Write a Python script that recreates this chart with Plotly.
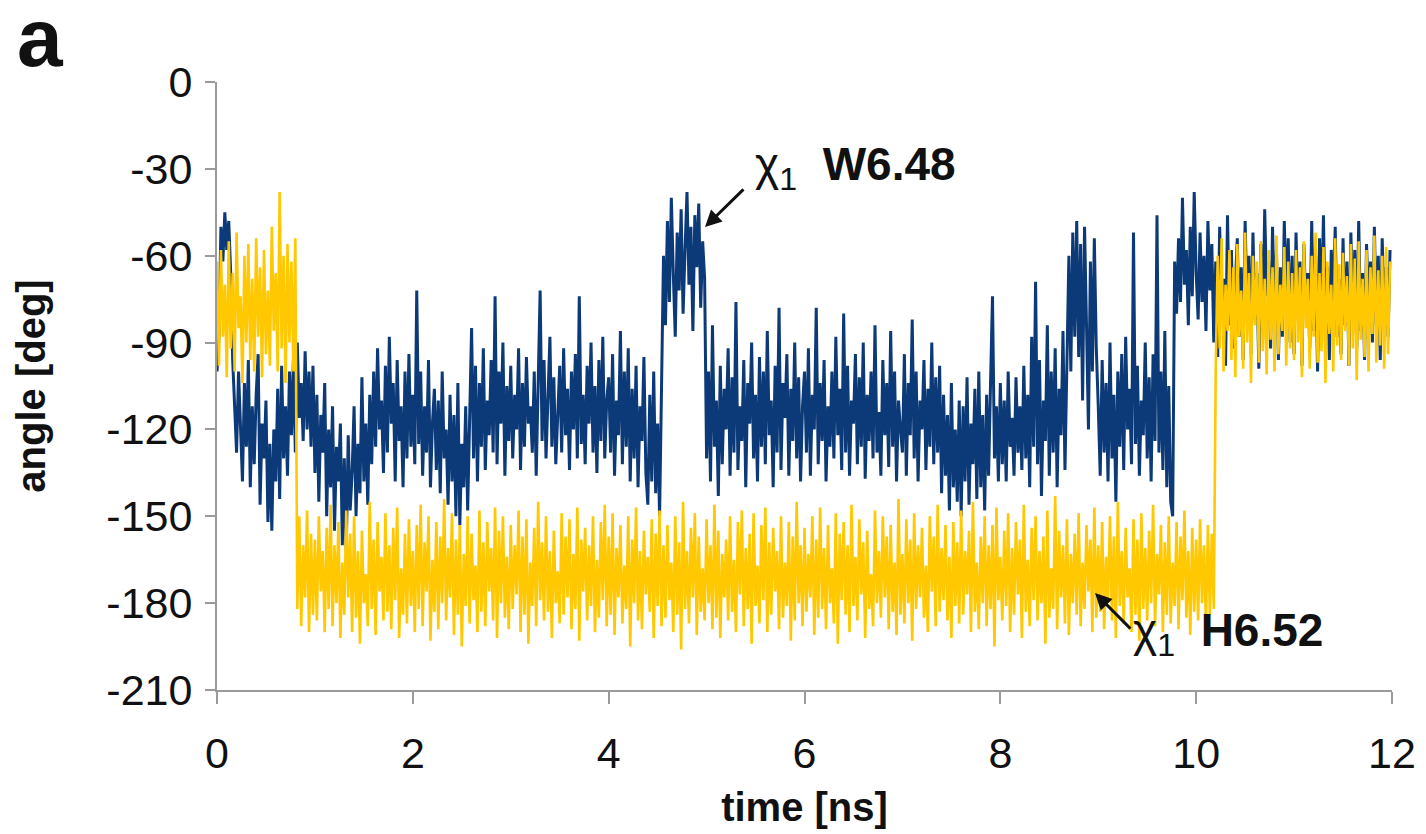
import plotly.graph_objects as go

dt = 0.02

# chi1 W6.48 (blue) angle values [deg], one per 0.02 ns
w648 = [
    # 0-1 ns
    -100, -88, -50, -62, -45, -58, -48, -66, -96, -112,
    -128, -100, -118, -138, -104, -126, -96, -140, -112, -132,
    -108, -94, -146, -118, -130, -110, -152, -125, -155, -120,
    -138, -106, -144, -98, -130, -112, -136, -100, -122, -96,
    -128, -90, -116, -104, -124, -93, -120, -100, -126, -98,
    # 1-2 ns
    -135, -108, -145, -115, -128, -104, -150, -120, -140, -112,
    -155, -126, -138, -118, -160, -130, -162, -122, -148, -135,
    -112, -150, -125, -142, -102, -138, -118, -146, -108, -132,
    -100, -126, -92, -120, -110, -135, -98, -128, -88, -118,
    -104, -138, -96, -124, -112, -140, -100, -130, -94, -126,
    # 2-3 ns
    -108, -132, -72, -125, -100, -136, -112, -128, -96, -140,
    -118, -106, -134, -110, -142, -100, -130, -120, -146, -108,
    -138, -115, -150, -104, -153, -125, -140, -112, -148, -120,
    -85, -130, -98, -138, -104, -126, -92, -134, -110, -122,
    -96, -128, -74, -132, -100, -118, -90, -136, -105, -124,
    # 3-4 ns
    -98, -130, -108, -120, -92, -134, -104, -126, -95, -118,
    -112, -128, -100, -136, -108, -72, -124, -96, -130, -110,
    -88, -126, -102, -132, -115, -98, -128, -92, -122, -106,
    -134, -100, -120, -94, -130, -74, -125, -108, -132, -98,
    -118, -90, -128, -105, -135, -96, -124, -88, -130, -110,
    # 4-5 ns
    -102, -128, -94, -136, -110, -122, -86, -132, -100, -126,
    -92, -138, -106, -130, -98, -140, -112, -124, -95, -135,
    -146, -108, -138, -100, -142, -118, -150, -96, -60, -84,
    -48, -76, -40, -66, -88, -52, -72, -44, -80, -58,
    -38, -70, -50, -86, -46, -64, -42, -78, -55, -68,
    # 5-6 ns
    -130, -100, -138, -84, -126, -110, -143, -98, -132, -106,
    -120, -92, -136, -102, -128, -76, -134, -112, -124, -96,
    -140, -104, -118, -90, -130, -108, -138, -95, -126, -100,
    -132, -86, -122, -110, -140, -98, -128, -78, -134, -104,
    -116, -94, -136, -106, -124, -90, -130, -102, -138, -112,
    # 6-7 ns
    -100, -128, -92, -136, -108, -120, -78, -132, -104, -124,
    -96, -138, -112, -126, -100, -130, -88, -122, -106, -134,
    -80, -128, -98, -136, -110, -118, -94, -132, -102, -126,
    -90, -137, -108, -124, -100, -130, -84, -128, -114, -136,
    -96, -122, -104, -133, -86, -126, -100, -138, -110, -120,
    # 7-8 ns
    -128, -94, -136, -104, -122, -82, -130, -100, -138, -110,
    -120, -96, -134, -106, -126, -90, -132, -102, -128, -98,
    -142, -108, -136, -115, -148, -104, -140, -120, -145, -110,
    -150, -112, -138, -102, -146, -118, -132, -106, -144, -100,
    -140, -115, -148, -108, -136, -104, -74, -130, -112, -138,
    # 8-9 ns
    -104, -132, -110, -138, -100, -126, -116, -136, -102, -128,
    -112, -134, -98, -130, -108, -140, -88, -126, -69, -132,
    -96, -143, -110, -124, -84, -136, -100, -128, -92, -140,
    -106, -122, -86, -134, -98, -60, -100, -52, -88, -48,
    -95, -56, -110, -50, -84, -120, -62, -100, -54, -92,
    # 9-10 ns
    -112, -136, -96, -128, -104, -138, -90, -130, -108, -145,
    -100, -126, -94, -134, -88, -120, -106, -132, -52, -125,
    -98, -136, -110, -122, -90, -130, -102, -138, -94, -124,
    -46, -128, -100, -134, -86, -140, -105, -145, -150, -62,
    -80, -54, -76, -40, -70, -58, -84, -50, -74, -38,
    # 10-11 ns
    -66, -82, -52, -76, -60, -86, -48, -72, -56, -90,
    -62, -95, -50, -80, -68, -98, -46, -84, -58, -92,
    -70, -54, -88, -64, -96, -48, -78, -60, -94, -52,
    -82, -66, -99, -56, -86, -44, -74, -62, -92, -50,
    -80, -58, -96, -64, -88, -48, -76, -54, -90, -60,
    # 11-12 ns
    -94, -52, -82, -62, -98, -56, -78, -66, -92, -48,
    -86, -60, -100, -54, -80, -46, -90, -64, -96, -58,
    -76, -50, -88, -68, -94, -54, -84, -62, -98, -52,
    -80, -58, -92, -48, -86, -66, -96, -56, -78, -62,
    -90, -50, -84, -60, -96, -54, -82, -64, -88, -58,
]

# chi1 H6.52 (yellow) angle values [deg], one per 0.02 ns
h652 = [
    # 0-1 ns
    -62, -98, -58, -88, -70, -102, -55, -92, -66, -100,
    -52, -85, -74, -104, -60, -90, -56, -96, -68, -100,
    -54, -88, -64, -102, -58, -94, -72, -98, -50, -86,
    -66, -100, -38, -92, -60, -104, -56, -90, -62, -100,
    -54, -182, -150, -188, -160, -178, -148, -190, -156, -184,
    # 1-2 ns
    -158, -186, -150, -176, -162, -190, -154, -182, -146, -188,
    -160, -180, -152, -192, -166, -184, -148, -178, -156, -190,
    -150, -185, -162, -194, -155, -180, -170, -188, -145, -182,
    -158, -191, -152, -176, -164, -186, -149, -183, -160, -189,
    -154, -179, -147, -192, -168, -184, -156, -187, -151, -181,
    # 2-3 ns
    -162, -190, -153, -182, -146, -188, -159, -176, -150, -193,
    -165, -183, -152, -189, -157, -180, -144, -186, -161, -178,
    -149, -191, -158, -184, -153, -195, -163, -181, -150, -187,
    -156, -179, -167, -190, -148, -183, -159, -188, -152, -176,
    -161, -186, -147, -192, -155, -180, -150, -185, -164, -189,
    # 3-4 ns
    -153, -182, -160, -177, -148, -190, -157, -184, -151, -194,
    -166, -181, -154, -188, -145, -179, -159, -186, -150, -183,
    -162, -192, -155, -180, -169, -187, -149, -184, -157, -178,
    -151, -189, -163, -182, -147, -193, -158, -176, -154, -186,
    -160, -181, -150, -190, -165, -185, -152, -179, -146, -188,
    # 4-5 ns
    -157, -184, -149, -191, -161, -178, -153, -187, -167, -182,
    -150, -195, -158, -180, -147, -186, -162, -189, -155, -177,
    -164, -183, -151, -192, -156, -181, -148, -188, -160, -185,
    -153, -179, -166, -190, -150, -184, -159, -196, -145, -182,
    -162, -187, -154, -178, -149, -191, -157, -183, -168, -186,
    # 5-6 ns
    -151, -180, -160, -189, -146, -185, -155, -192, -163, -178,
    -158, -186, -150, -183, -165, -190, -152, -177, -148, -188,
    -161, -182, -156, -194, -149, -181, -167, -187, -153, -179,
    -147, -190, -159, -184, -154, -176, -162, -189, -150, -185,
    -166, -181, -152, -193, -157, -186, -145, -180, -160, -188,
    # 6-7 ns
    -154, -183, -163, -178, -150, -191, -158, -185, -147, -182,
    -161, -189, -153, -180, -168, -187, -149, -194, -156, -179,
    -152, -184, -160, -190, -146, -181, -164, -186, -151, -177,
    -159, -192, -155, -182, -170, -188, -148, -180, -162, -185,
    -150, -178, -157, -189, -153, -183, -166, -191, -144, -184,
    # 7-8 ns
    -163, -187, -151, -180, -158, -193, -149, -182, -160, -178,
    -154, -185, -167, -190, -150, -176, -157, -188, -146, -183,
    -161, -179, -153, -186, -164, -192, -152, -181, -159, -187,
    -148, -184, -162, -177, -155, -190, -145, -183, -166, -189,
    -157, -180, -150, -188, -160, -182, -153, -195, -147, -179,
    # 8-9 ns
    -164, -186, -155, -181, -149, -190, -161, -184, -152, -177,
    -158, -192, -146, -183, -165, -188, -154, -179, -150, -186,
    -162, -180, -157, -194, -148, -185, -168, -182, -143, -189,
    -155, -178, -160, -187, -151, -191, -163, -180, -156, -184,
    -149, -188, -166, -182, -153, -176, -158, -190, -147, -185,
    # 9-10 ns
    -160, -183, -152, -189, -164, -179, -150, -186, -157, -192,
    -145, -181, -162, -187, -154, -178, -168, -190, -151, -184,
    -158, -193, -149, -182, -161, -186, -155, -180, -146, -188,
    -163, -177, -153, -190, -159, -184, -150, -187, -166, -181,
    -152, -189, -157, -179, -148, -185, -162, -191, -154, -183,
    # 10-11 ns
    -158, -186, -151, -180, -160, -188, -153, -184, -156, -182,
    -98, -60, -92, -54, -100, -70, -86, -58, -96, -64,
    -102, -56, -88, -72, -99, -52, -90, -66, -104, -60,
    -84, -62, -97, -55, -93, -68, -101, -58, -89, -64,
    -100, -53, -94, -70, -86, -57, -98, -62, -92, -66,
    # 11-12 ns
    -96, -58, -90, -64, -102, -55, -85, -68, -99, -60,
    -88, -52, -97, -66, -93, -57, -104, -62, -87, -70,
    -100, -54, -91, -63, -96, -59, -86, -67, -98, -56,
    -92, -61, -103, -55, -89, -68, -95, -58, -100, -64,
    -87, -53, -97, -65, -91, -60, -99, -57, -94, -62,
]

t_w = [round(i * dt, 2) for i in range(len(w648))]
t_h = [round(i * dt, 2) for i in range(len(h652))]

y_ticks = [0, -30, -60, -90, -120, -150, -180, -210]
y_ticklabels = ["0", "-30", "-60", "-90", "-120", "-150", "-180", "-210"]
x_ticks = [0, 2, 4, 6, 8, 10, 12]
x_ticklabels = ["0", "2", "4", "6", "8", "10", "12"]

BLUE = "#0c3a78"
YELLOW = "#ffc800"
AXIS = "#9a9a9a"
INK = "#111111"
FONT = "Arial, Liberation Sans, sans-serif"

fig = go.Figure()
fig.add_trace(go.Scatter(x=t_w, y=w648, mode="lines", name="χ1 W6.48",
                         line=dict(color=BLUE, width=3)))
fig.add_trace(go.Scatter(x=t_h, y=h652, mode="lines", name="χ1 H6.52",
                         line=dict(color=YELLOW, width=2.6)))

# the page body adds an 8 px offset, so the figure is 8 px smaller than the window
fig.update_layout(
    width=1418, height=826, autosize=False,
    margin=dict(l=209, r=34, t=74, b=144),
    paper_bgcolor="white", plot_bgcolor="white",
    showlegend=False,
    font=dict(family=FONT, color=INK),
)
fig.update_xaxes(
    range=[0, 12], tickvals=x_ticks, ticktext=x_ticklabels,
    showline=True, linecolor=AXIS, linewidth=2,
    ticks="outside", ticklen=12, tickwidth=2, tickcolor=AXIS,
    showgrid=False, zeroline=False, automargin=False,
    tickfont=dict(size=43, family=FONT, color=INK),
    ticklabelstandoff=12,
    title=dict(text="<b>time [ns]</b>", font=dict(size=40, family=FONT, color=INK), standoff=17),
)
fig.update_yaxes(
    range=[-210, 0], tickvals=y_ticks, ticktext=y_ticklabels,
    showline=True, linecolor=AXIS, linewidth=2,
    ticks="outside", ticklen=10, tickwidth=2, tickcolor=AXIS,
    showgrid=False, zeroline=False, automargin=False,
    tickfont=dict(size=43, family=FONT, color=INK),
    ticklabelstandoff=4,
    title=dict(text="<b>angle [deg]</b>", font=dict(size=40, family=FONT, color=INK), standoff=48),
)

# panel letter
fig.add_annotation(xref="paper", yref="paper", x=-0.172, y=1.152, xanchor="left", yanchor="top",
                   text="<b>a</b>", showarrow=False, font=dict(size=82, family=FONT, color=INK))

# labels
fig.add_annotation(x=5.47, y=-29.5, xanchor="left", yanchor="middle",
                   text="χ<sub>1</sub>\u00a0\u00a0<b>W6.48</b>", showarrow=False,
                   font=dict(size=46, family=FONT, color=INK))
fig.add_annotation(x=9.33, y=-190.5, xanchor="left", yanchor="middle",
                   text="χ<sub>1</sub>\u00a0\u00a0<b>H6.52</b>", showarrow=False,
                   font=dict(size=46, family=FONT, color=INK))

# arrows
fig.add_annotation(x=4.984, y=-50.1, ax=5.392, ay=-36.6, axref="x", ayref="y",
                   text="", showarrow=True, arrowhead=2, arrowsize=1.1, arrowwidth=3, arrowcolor=INK)
fig.add_annotation(x=8.967, y=-176.5, ax=9.344, ay=-189.3, axref="x", ayref="y",
                   text="", showarrow=True, arrowhead=2, arrowsize=1.1, arrowwidth=3, arrowcolor=INK)

fig.write_html("out.html")
